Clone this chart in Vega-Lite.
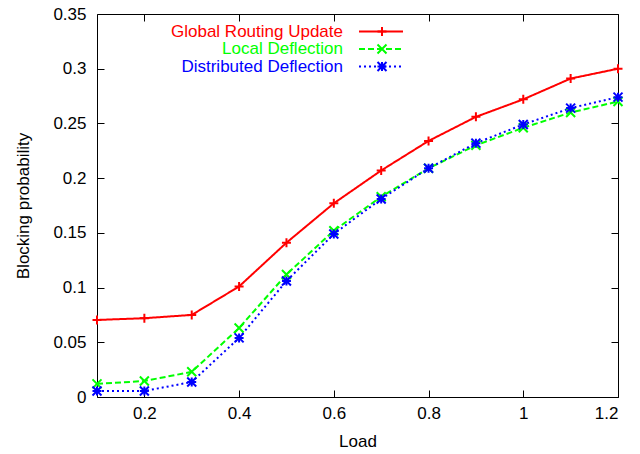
{
  "$schema": "https://vega.github.io/schema/vega-lite/v6.json",
  "width": 521,
  "height": 383,
  "autosize": "none",
  "padding": {"left": 97, "top": 14, "right": 22, "bottom": 57},
  "background": "white",
  "config": {
    "font": "Liberation Sans",
    "view": {"stroke": "black", "strokeWidth": 1},
    "axis": {"grid": false, "domain": false, "tickColor": "black", "labelColor": "black", "titleColor": "black", "labelFontSize": 17, "titleFontSize": 17, "titleFontWeight": "normal", "tickSize": -7, "labelFont": "Liberation Sans", "titleFont": "Liberation Sans"},
    "legend": {"labelFont": "Liberation Sans", "labelFontSize": 17, "padding": 0, "offset": 0, "labelLimit": 0}
  },
  "data": {"values": [
    {"series": "Global Routing Update", "load": 0.1, "p": 0.0704},
    {"series": "Global Routing Update", "load": 0.2, "p": 0.072},
    {"series": "Global Routing Update", "load": 0.3, "p": 0.075},
    {"series": "Global Routing Update", "load": 0.4, "p": 0.101},
    {"series": "Global Routing Update", "load": 0.5, "p": 0.141},
    {"series": "Global Routing Update", "load": 0.6, "p": 0.177},
    {"series": "Global Routing Update", "load": 0.7, "p": 0.207},
    {"series": "Global Routing Update", "load": 0.8, "p": 0.234},
    {"series": "Global Routing Update", "load": 0.9, "p": 0.256},
    {"series": "Global Routing Update", "load": 1.0, "p": 0.272},
    {"series": "Global Routing Update", "load": 1.1, "p": 0.291},
    {"series": "Global Routing Update", "load": 1.2, "p": 0.300},
    {"series": "Local Deflection", "load": 0.1, "p": 0.012},
    {"series": "Local Deflection", "load": 0.2, "p": 0.0146},
    {"series": "Local Deflection", "load": 0.3, "p": 0.023},
    {"series": "Local Deflection", "load": 0.4, "p": 0.063},
    {"series": "Local Deflection", "load": 0.5, "p": 0.112},
    {"series": "Local Deflection", "load": 0.6, "p": 0.152},
    {"series": "Local Deflection", "load": 0.7, "p": 0.183},
    {"series": "Local Deflection", "load": 0.8, "p": 0.209},
    {"series": "Local Deflection", "load": 0.9, "p": 0.230},
    {"series": "Local Deflection", "load": 1.0, "p": 0.246},
    {"series": "Local Deflection", "load": 1.1, "p": 0.260},
    {"series": "Local Deflection", "load": 1.2, "p": 0.270},
    {"series": "Distributed Deflection", "load": 0.1, "p": 0.0055},
    {"series": "Distributed Deflection", "load": 0.2, "p": 0.0055},
    {"series": "Distributed Deflection", "load": 0.3, "p": 0.0137},
    {"series": "Distributed Deflection", "load": 0.4, "p": 0.054},
    {"series": "Distributed Deflection", "load": 0.5, "p": 0.106},
    {"series": "Distributed Deflection", "load": 0.6, "p": 0.149},
    {"series": "Distributed Deflection", "load": 0.7, "p": 0.181},
    {"series": "Distributed Deflection", "load": 0.8, "p": 0.209},
    {"series": "Distributed Deflection", "load": 0.9, "p": 0.232},
    {"series": "Distributed Deflection", "load": 1.0, "p": 0.249},
    {"series": "Distributed Deflection", "load": 1.1, "p": 0.264},
    {"series": "Distributed Deflection", "load": 1.2, "p": 0.274}
  ]},
  "resolve": {
    "axis": {"x": "independent", "y": "independent"},
    "legend": {"color": "independent", "shape": "independent", "strokeDash": "independent"}
  },
  "layer": [
    {
      "mark": {"type": "line", "strokeWidth": 2},
      "encoding": {
        "x": {"field": "load", "type": "quantitative", "scale": {"domain": [0.1, 1.2], "nice": false, "zero": false},
              "axis": {"orient": "bottom", "title": "Load", "values": [0.2, 0.4, 0.6, 0.8, 1.0, 1.2], "format": "~g", "labelPadding": 15, "titlePadding": 12}},
        "y": {"field": "p", "type": "quantitative", "scale": {"domain": [0, 0.35], "nice": false},
              "axis": {"orient": "left", "title": "Blocking probability", "values": [0, 0.05, 0.1, 0.15, 0.2, 0.25, 0.3, 0.35], "format": "~g", "labelPadding": 18, "titlePadding": 20}},
        "color": {"field": "series", "type": "nominal",
                  "scale": {"domain": ["Global Routing Update", "Local Deflection", "Distributed Deflection"], "range": ["#ff0000", "#00ff00", "#0000ff"]},
                  "legend": {"title": null, "orient": "none", "legendX": 275.5, "legendY": 9, "symbolType": "M-4,0L4,0", "symbolSize": 121, "symbolStrokeWidth": 2, "labelAlign": "right", "labelOffset": -46.5, "rowPadding": -0.5,
                             "encode": {"labels": {"update": {"fill": {"scale": "color", "field": "value"}}}}}},
        "strokeDash": {"field": "series", "type": "nominal",
                       "scale": {"domain": ["Global Routing Update", "Local Deflection", "Distributed Deflection"], "range": [[1, 0], [6, 3], [2, 3]]},
                       "legend": {"title": null, "orient": "none", "legendX": 275.5, "legendY": 9, "symbolType": "M-4,0L4,0", "symbolSize": 121, "symbolStrokeWidth": 2, "labelAlign": "right", "labelOffset": -46.5, "rowPadding": -0.5,
                             "encode": {"labels": {"update": {"fill": {"scale": "color", "field": "value"}}}}}}
      }
    },
    {
      "mark": {"type": "point", "filled": false, "strokeWidth": 2, "size": 81, "opacity": 1},
      "encoding": {
        "x": {"field": "load", "type": "quantitative",
              "axis": {"orient": "top", "title": null, "labels": false, "values": [0.2, 0.4, 0.6, 0.8, 1.0, 1.2]}},
        "y": {"field": "p", "type": "quantitative",
              "axis": {"orient": "right", "title": null, "labels": false, "values": [0, 0.05, 0.1, 0.15, 0.2, 0.25, 0.3, 0.35]}},
        "color": {"field": "series", "type": "nominal",
                  "legend": {"title": null, "orient": "none", "legendX": 276.5, "legendY": 9, "symbolSize": 81, "symbolStrokeWidth": 2, "labelOpacity": 0, "rowPadding": -0.5}},
        "shape": {"field": "series", "type": "nominal",
                  "scale": {"domain": ["Global Routing Update", "Local Deflection", "Distributed Deflection"], "range": ["M-1,0L1,0M0,-1L0,1", "M-1,-1L1,1M-1,1L1,-1", "M-1,0L1,0M0,-1L0,1M-1,-1L1,1M-1,1L1,-1"]},
                  "legend": {"title": null, "orient": "none", "legendX": 276.5, "legendY": 9, "symbolSize": 81, "symbolStrokeWidth": 2, "labelOpacity": 0, "rowPadding": -0.5}}
      }
    }
  ]
}
